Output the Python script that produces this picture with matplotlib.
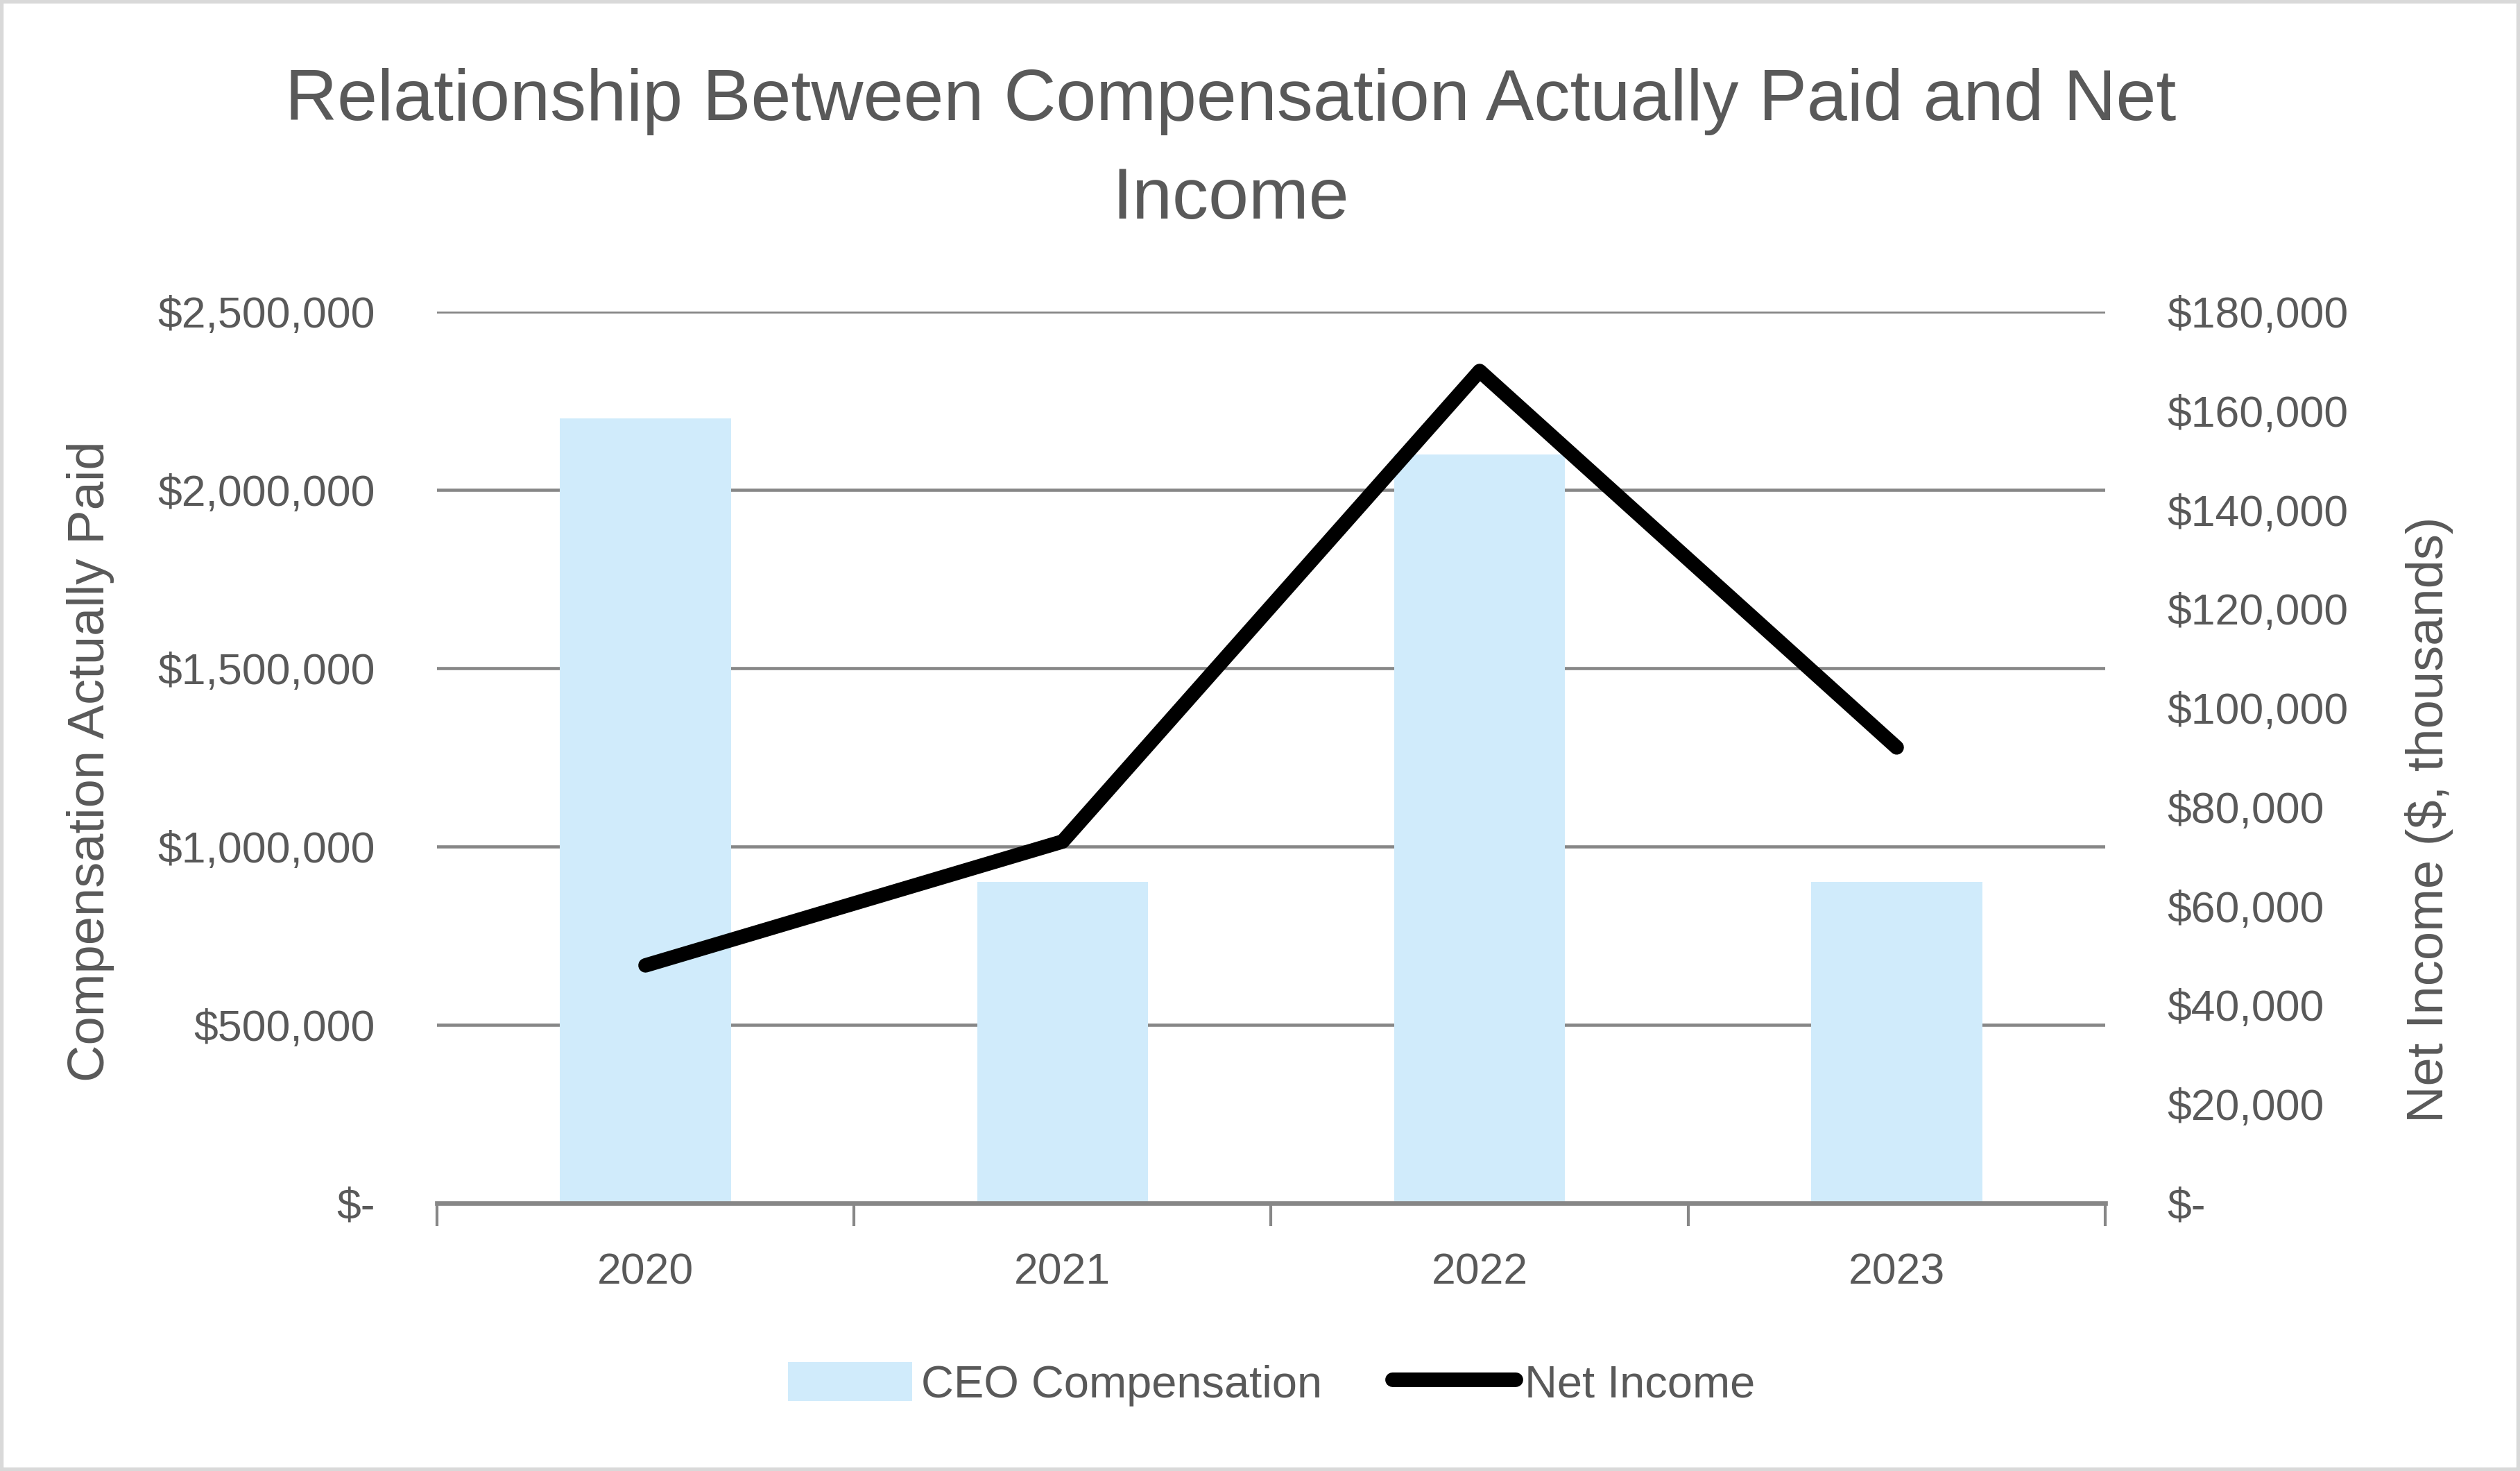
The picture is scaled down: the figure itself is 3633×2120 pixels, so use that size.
import matplotlib
matplotlib.use('Agg')
import matplotlib.pyplot as plt
from matplotlib.ticker import FuncFormatter
from matplotlib.patches import Rectangle, Patch
from matplotlib.lines import Line2D

plt.rcParams['font.family'] = ['Liberation Sans', 'DejaVu Sans']

# data
years = ['2020', '2021', '2022', '2023']
ceo_pay = [2200000, 900000, 2100000, 900000]
net_income = [48000, 73000, 168000, 92000]

text_col = '#595959'
grid_col = '#878787'
bar_col = '#D0EBFB'


def money(v, pos):
    if v == 0:
        return '$-'
    return '${:,.0f}'.format(v)


fig = plt.figure(figsize=(12.11, 7.0667), dpi=300)
fig.patches.append(Rectangle((0, 0), 1, 1, transform=fig.transFigure, fill=False,
                             edgecolor='#D9D9D9', lw=2.5, zorder=10))

ax = fig.add_axes([0.1734, 0.1821, 0.662, 0.6061])
x = list(range(len(years)))
ax.bar(x, ceo_pay, width=0.41, color=bar_col, zorder=2)
ax.set_xlim(-0.5, 3.5)
ax.set_ylim(0, 2500000)
ax.set_yticks(range(0, 2500001, 500000))
ax.yaxis.set_major_formatter(FuncFormatter(money))
ax.grid(axis='y', color=grid_col, lw=1.1)
ax.set_axisbelow(True)
ax.set_xticks(x)
ax.set_xticklabels(years)
ax.set_xticks([-0.5, 0.5, 1.5, 2.5, 3.5], minor=True)
ax.tick_params(axis='x', which='major', length=0, pad=17, labelsize=15, labelcolor=text_col)
ax.tick_params(axis='x', which='minor', length=8, width=1, color=grid_col)
ax.tick_params(axis='y', length=0, pad=21.5, labelsize=15, labelcolor=text_col)
for s in ['left', 'right', 'top']:
    ax.spines[s].set_visible(False)
ax.spines['bottom'].set_color(grid_col)
ax.spines['bottom'].set_linewidth(1.6)

ax2 = ax.twinx()
ax2.plot(x, net_income, color='black', lw=5, solid_capstyle='round',
         solid_joinstyle='round', zorder=3)
ax2.set_ylim(0, 180000)
ax2.set_yticks(range(0, 180001, 20000))
ax2.yaxis.set_major_formatter(FuncFormatter(money))
ax2.tick_params(axis='y', length=0, pad=21.5, labelsize=15, labelcolor=text_col)
for s in ['left', 'right', 'top', 'bottom']:
    ax2.spines[s].set_visible(False)

# titles
fig.text(0.4883, 0.9184, 'Relationship Between Compensation Actually Paid and Net',
         ha='center', va='baseline', fontsize=25, color=text_col)
fig.text(0.4883, 0.8514, 'Income', ha='center', va='baseline', fontsize=25, color=text_col)
fig.text(0.0358, 0.4825, 'Compensation Actually Paid', rotation=90, ha='center',
         va='center', fontsize=17.8, color=text_col)
fig.text(0.9640, 0.4429, 'Net Income ($, thousands)', rotation=90, ha='center',
         va='center', fontsize=17.8, color=text_col)

handles = [Patch(facecolor=bar_col, edgecolor='none'),
           Line2D([], [], color='black', lw=5, solid_capstyle='round')]
leg = fig.legend(handles, ['CEO Compensation', 'Net Income'], loc='center',
                 bbox_to_anchor=(0.5046, 0.059), ncol=2, frameon=False, fontsize=15.6,
                 handlelength=2.75, handleheight=0.95, handletextpad=0.2, columnspacing=1.55)
for t in leg.get_texts():
    t.set_color(text_col)

fig.savefig('out.png', dpi=300)
